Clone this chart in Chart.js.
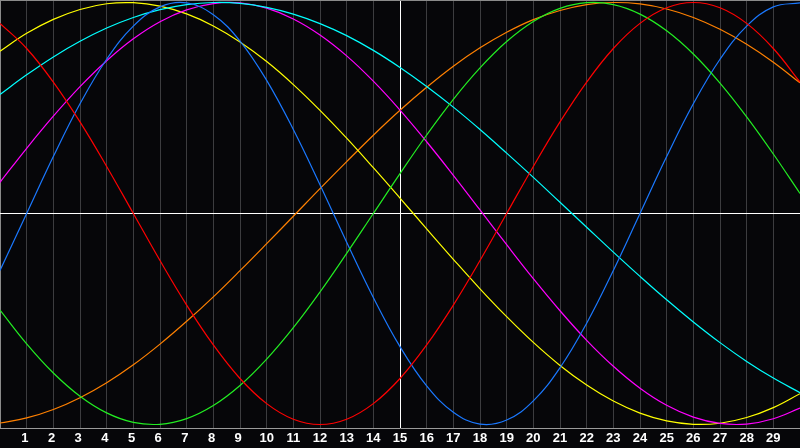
<!DOCTYPE html>
<html>
<head>
<meta charset="utf-8">
<script src="https://cdn.jsdelivr.net/npm/chart.js@4/dist/chart.umd.min.js"></script>
<style>
  body { margin: 0; background: #060609; }
  canvas { display: block; background: #060609; }
</style>
</head>
<body>
<canvas id="canvas" width="800" height="448"></canvas>
<script>
const canvas = document.getElementById('canvas');
const ctx = canvas.getContext('2d');

// days shown on the x axis (0 and 30 are the edges, unlabeled)
const days = [0, 1, 2, 3, 4, 5, 6, 7, 8, 9, 10, 11, 12, 13, 14, 15, 16, 17, 18, 19, 20, 21, 22, 23, 24, 25, 26, 27, 28, 29, 30];

const red = [0.901, 0.782, 0.623, 0.434, 0.223, 0, -0.223, -0.434, -0.623, -0.782, -0.901, -0.975, -1, -0.975, -0.901, -0.782, -0.623, -0.434, -0.223, 0, 0.223, 0.434, 0.623, 0.782, 0.901, 0.975, 1, 0.975, 0.901, 0.782, 0.623];
const green = [-0.458, -0.618, -0.756, -0.866, -0.945, -0.99, -0.999, -0.972, -0.91, -0.815, -0.69, -0.541, -0.372, -0.189, 0, 0.189, 0.372, 0.541, 0.69, 0.815, 0.91, 0.972, 0.999, 0.99, 0.945, 0.866, 0.756, 0.618, 0.458, 0.282, 0.095];
const blue = [-0.27, 0, 0.27, 0.52, 0.731, 0.888, 0.979, 0.998, 0.942, 0.817, 0.631, 0.398, 0.136, -0.136, -0.398, -0.631, -0.817, -0.942, -0.998, -0.979, -0.888, -0.731, -0.52, -0.27, 0, 0.27, 0.52, 0.731, 0.888, 0.979, 0.998];
const cyan = [0.564, 0.657, 0.742, 0.816, 0.879, 0.929, 0.966, 0.99, 1, 0.996, 0.977, 0.945, 0.9, 0.843, 0.773, 0.692, 0.602, 0.504, 0.398, 0.286, 0.171, 0.053, -0.065, -0.183, -0.298, -0.409, -0.514, -0.612, -0.701, -0.78, -0.849];
const magenta = [0.148, 0.309, 0.461, 0.601, 0.724, 0.828, 0.909, 0.965, 0.995, 0.998, 0.973, 0.922, 0.846, 0.747, 0.627, 0.49, 0.34, 0.181, 0.017, -0.148, -0.309, -0.461, -0.601, -0.724, -0.828, -0.909, -0.965, -0.995, -0.998, -0.973, -0.922];
const yellow = [0.769, 0.854, 0.92, 0.967, 0.994, 0.999, 0.983, 0.946, 0.889, 0.813, 0.72, 0.611, 0.489, 0.357, 0.217, 0.073, -0.073, -0.217, -0.357, -0.489, -0.611, -0.72, -0.813, -0.889, -0.946, -0.983, -0.999, -0.994, -0.967, -0.92, -0.854];
const orange = [-0.993, -0.969, -0.929, -0.873, -0.802, -0.717, -0.619, -0.511, -0.395, -0.271, -0.143, -0.013, 0.118, 0.246, 0.371, 0.489, 0.598, 0.698, 0.785, 0.859, 0.919, 0.962, 0.99, 1, 0.993, 0.969, 0.929, 0.873, 0.802, 0.717, 0.619];

const series = [
  { data: red, color: '#ff0000' },
  { data: green, color: '#22ee22' },
  { data: blue, color: '#1a78ff' },
  { data: cyan, color: '#00ffff' },
  { data: magenta, color: '#ff00ff' },
  { data: yellow, color: '#ffff00' },
  { data: orange, color: '#ff8000' },
];

const yMin = -1.0166;
const yMax = 1.0118;

const myChart = new Chart(ctx, {
  type: 'line',
  data: {
    datasets: series.map((s) => ({
      data: days.map((d, i) => ({ x: d, y: s.data[i] })),
      borderColor: s.color,
      borderWidth: 1.2,
      pointRadius: 0,
      pointHoverRadius: 0,
      pointBorderWidth: 0,
      tension: 0.4,
      fill: false,
    })),
  },
  options: {
    responsive: false,
    animation: false,
    layout: { autoPadding: false, padding: 0 },
    plugins: { legend: { display: false }, tooltip: { enabled: false } },
    scales: {
      x: {
        type: 'linear',
        min: 0,
        max: 30,
        ticks: {
          stepSize: 1,
          autoSkip: false,
          maxRotation: 0,
          padding: 0,
          color: '#ffffff',
          font: { family: 'Liberation Sans', size: 13, weight: 'bold', lineHeight: '20px' },
          // single digits sit a little left of their grid line
          callback: (v) => (v === 0 || v === 30 ? '' : v < 10 ? v + ' ' : '' + v),
        },
        grid: {
          drawTicks: false,
          lineWidth: 1,
          color: (c) => {
            const v = c.tick && c.tick.value;
            if (v === 15) return '#ffffff';
            if (v === 0) return '#8a8a8a';
            if (v === 30) return 'rgba(0,0,0,0)';
            return '#3c3c3f';
          },
        },
        border: { display: true, color: '#9a9a9a', width: 1 },
      },
      y: {
        min: yMin,
        max: yMax,
        ticks: { display: false, stepSize: 1 },
        grid: {
          drawTicks: false,
          lineWidth: 1,
          color: (c) => {
            const v = c.tick && c.tick.value;
            if (v === 0) return '#ffffff';
            if (v === yMax) return '#8a8a8a';
            return 'rgba(0,0,0,0)';
          },
        },
        border: { display: false },
      },
    },
  },
});
</script>
</body>
</html>
